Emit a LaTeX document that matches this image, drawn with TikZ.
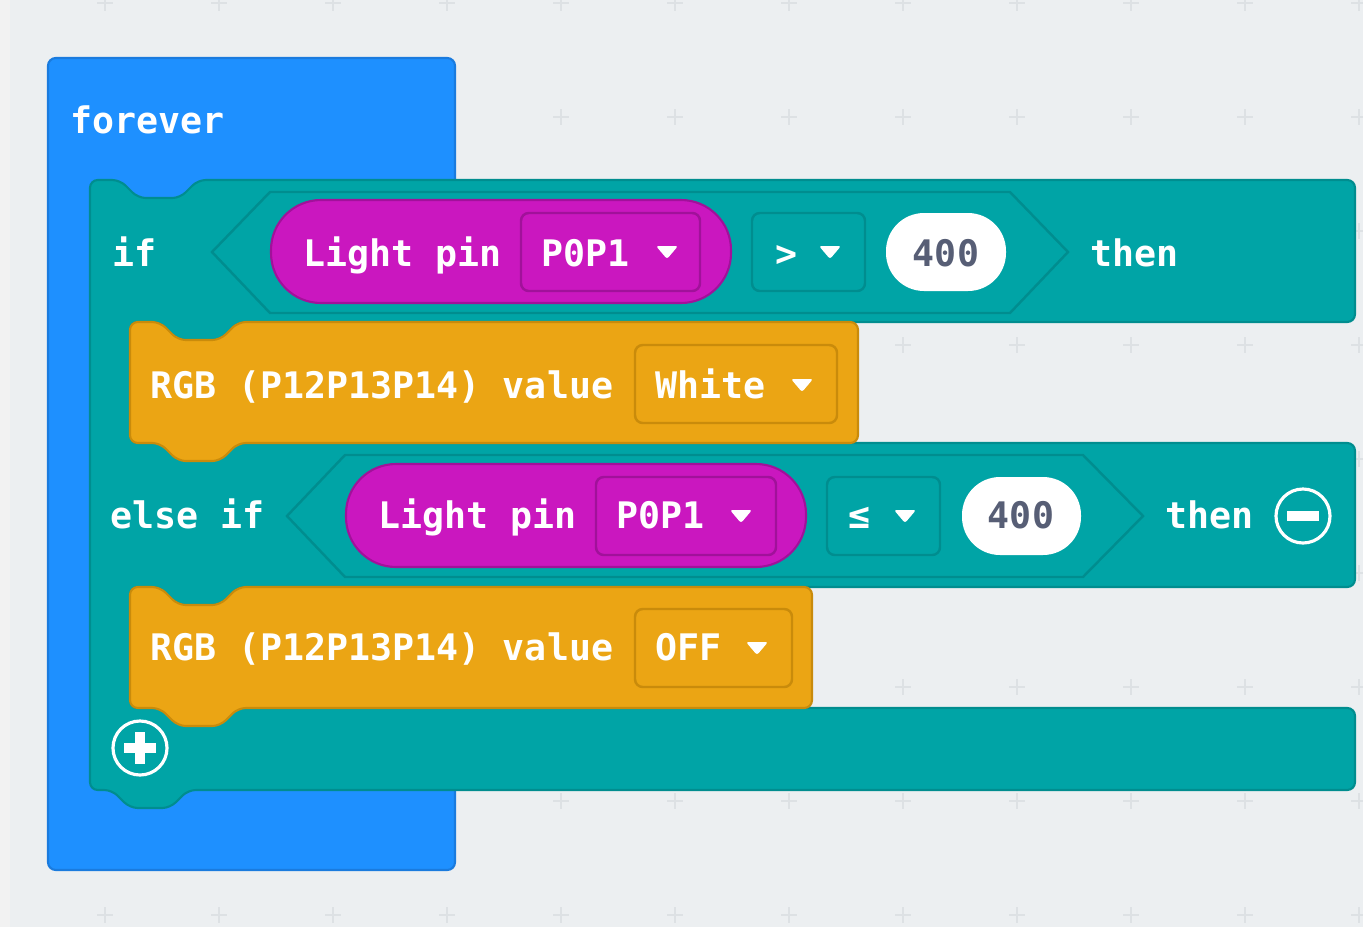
\documentclass[tikz,border=0pt]{standalone}
\usepackage{fontspec}
\setmonofont{DejaVu Sans Mono}
\usepackage{tikz}

\definecolor{bgcol}{HTML}{ECEFF1}
\definecolor{gridcol}{HTML}{DDE1E4}
\definecolor{loopblue}{HTML}{1E90FF}
\definecolor{loopedge}{HTML}{1A7BDE}
\definecolor{logicteal}{HTML}{00A4A6}
\definecolor{logicedge}{HTML}{008D8F}
\definecolor{rgborange}{HTML}{EBA514}
\definecolor{rgbedge}{HTML}{C98B0B}
\definecolor{pinmagenta}{HTML}{CA17BF}
\definecolor{pinedge}{HTML}{A1119A}
\definecolor{numgray}{HTML}{575E75}

\newcommand{\blk}{\fontsize{10.4pt}{12pt}\ttfamily\bfseries}
\newcommand{\droptri}[2]{\fill[white,rounded corners=0.7pt] (#1-11,#2-6) -- (#1+11,#2-6) -- (#1,#2+7) -- cycle;}

\begin{document}
\begin{tikzpicture}[x=0.01cm,y=-0.01cm,
  lbl/.style={font=\blk,text=white,inner sep=0pt,anchor=base west},
  num/.style={font=\blk,text=numgray,inner sep=0pt,anchor=base},
  blockline/.style={line width=0.6pt,rounded corners=2.2pt},
  hexcond/.style={fill=logicteal,draw=logicedge,line width=0.7pt},
  dropbox/.style={line width=0.7pt,rounded corners=2.2pt}]
  \useasboundingbox (0,0) rectangle (1363,927);
  \fill[bgcol] (0,0) rectangle (1363,927);
  \fill[black!5] (0,0) rectangle (10,927);
  \foreach \gx in {105,219,...,1359}
    \foreach \gy in {3,117,...,915}
      \draw[gridcol,line width=0.4pt] (\gx-8,\gy) -- (\gx+8,\gy) (\gx,\gy-8) -- (\gx,\gy+8);

  % forever
  \draw[fill=loopblue,draw=loopedge,blockline] (48,58) rectangle (455,870);
  \node[lbl] (forever) at (70,133) {forever};

  % if / else if
  \draw[fill=logicteal,draw=logicedge,blockline] (90,180) -- (120,180) -- (138,198) -- (180,198) -- (198,180)
    -- (1355,180) -- (1355,322) -- (238,322) -- (220,340) -- (178,340) -- (160,322) -- (130,322)
    -- (130,443) -- (1355,443) -- (1355,587) -- (238,587) -- (220,605) -- (178,605) -- (160,587) -- (130,587)
    -- (130,708) -- (1355,708) -- (1355,790) -- (188,790) -- (170,808) -- (130,808) -- (112,790) -- (90,790) -- cycle;

  \path[hexcond] (212,252) -- (270,192) -- (1010,192) -- (1068,252) -- (1010,313) -- (270,313) -- cycle;
  \draw[fill=pinmagenta,draw=pinedge,line width=0.6pt,rounded corners=0.5cm] (271,200) rectangle (731,303);
  \draw[dropbox,fill=pinmagenta,draw=pinedge] (521,213) rectangle (700,291);
  \draw[dropbox,fill=logicteal,draw=logicedge] (752,213) rectangle (865,291);
  \fill[white,rounded corners=0.38cm] (886,213) rectangle (1006,291);
  \node[lbl] (if) at (112,266) {if};
  \node[lbl] (light1) at (303,266) {Light pin};
  \node[lbl] (pin1) at (541,266) {P0P1};
  \droptri{667}{252}
  \node[lbl] (op1) at (775,266) {>};
  \droptri{830}{252}
  \node[num] (val1) at (946,266) {400};
  \node[lbl] (then1) at (1090,266) {then};

  \path[hexcond] (287,516) -- (345,455) -- (1083,455) -- (1143,516) -- (1083,577) -- (345,577) -- cycle;
  \draw[fill=pinmagenta,draw=pinedge,line width=0.6pt,rounded corners=0.5cm] (346,464) rectangle (806,567);
  \draw[dropbox,fill=pinmagenta,draw=pinedge] (596,477) rectangle (776,555);
  \draw[dropbox,fill=logicteal,draw=logicedge] (827,477) rectangle (940,555);
  \fill[white,rounded corners=0.38cm] (962,477) rectangle (1081,555);
  \node[lbl] (elseif) at (110,528) {else if};
  \node[lbl] (light2) at (378,528) {Light pin};
  \node[lbl] (pin2) at (616,528) {P0P1};
  \droptri{741}{516}
  \node[lbl] (op2) at (848,528) {≤};
  \droptri{905}{516}
  \node[num] (val2) at (1021,528) {400};
  \node[lbl] (then2) at (1165,528) {then};
  \draw[white,line width=0.9pt] (1303,516) circle (0.27cm);
  \draw[white,line width=2.6pt] (1287,516) -- (1319,516);

  % rgb blocks
  \draw[fill=rgborange,draw=rgbedge,blockline] (130,322) -- (160,322) -- (178,340) -- (220,340) -- (238,322)
    -- (858,322) -- (858,443) -- (238,443) -- (220,461) -- (178,461) -- (160,443) -- (130,443) -- cycle;
  \draw[dropbox,fill=rgborange,draw=rgbedge] (635,345) rectangle (837,423);
  \node[lbl] (rgb1) at (150,398) {RGB (P12P13P14) value};
  \node[lbl] (white) at (655,398) {White};
  \droptri{802}{385}

  \draw[fill=rgborange,draw=rgbedge,blockline] (130,587) -- (160,587) -- (178,605) -- (220,605) -- (238,587)
    -- (812,587) -- (812,708) -- (238,708) -- (220,726) -- (178,726) -- (160,708) -- (130,708) -- cycle;
  \draw[dropbox,fill=rgborange,draw=rgbedge] (635,609) rectangle (792,687);
  \node[lbl] (rgb2) at (150,660) {RGB (P12P13P14) value};
  \node[lbl] (off) at (655,660) {OFF};
  \droptri{757}{648}

  \draw[white,line width=0.9pt] (140,748) circle (0.27cm);
  \draw[white,line width=2.6pt] (124,748) -- (156,748) (140,732) -- (140,764);
\end{tikzpicture}
\end{document}
